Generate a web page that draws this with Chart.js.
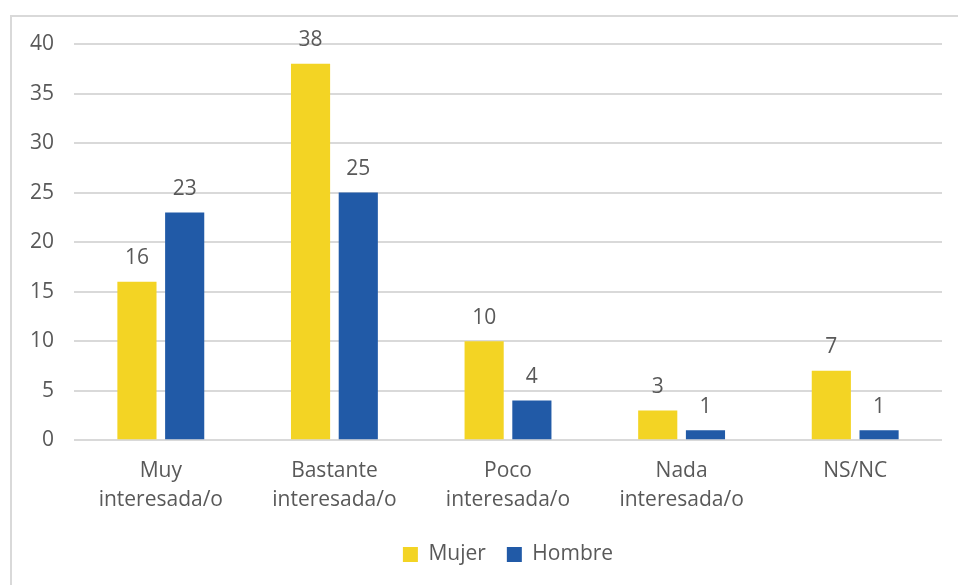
<!DOCTYPE html>
<html>
<head>
<meta charset="utf-8">
<script src="https://cdn.jsdelivr.net/npm/chart.js@4/dist/chart.umd.min.js"></script>
<style>
  html, body { margin: 0; padding: 0; background: #fff; overflow: hidden; }
  #marco { position: absolute; left: 10px; top: 15px; width: 960px; height: 580px; border: 2px solid #d9d9d9; box-sizing: border-box; }
  #grafico { position: absolute; left: 0; top: 0; }
</style>
</head>
<body>
<div id="marco"></div>
<canvas id="grafico" width="958" height="585"></canvas>
<script>
// datos
const categorias = [['Muy', 'interesada/o'], ['Bastante', 'interesada/o'], ['Poco', 'interesada/o'], ['Nada', 'interesada/o'], 'NS/NC'];
const mujer = [16, 38, 10, 3, 7];
const hombre = [23, 25, 4, 1, 1];
const colorMujer = '#F3D424';
const colorHombre = '#215AA7';
const textoGris = '#595959';
const fuente = '"Open Sans", sans-serif';

// etiquetas de valor encima de cada barra
const etiquetasValor = {
    id: 'etiquetasValor',
    afterDatasetsDraw(chart) {
        const ctx = chart.ctx;
        ctx.save();
        ctx.font = '21px ' + fuente;
        ctx.fillStyle = textoGris;
        ctx.textAlign = 'center';
        ctx.textBaseline = 'bottom';
        chart.data.datasets.forEach((ds, i) => {
            chart.getDatasetMeta(i).data.forEach((barra, j) => {
                ctx.fillText(ds.data[j], barra.x, barra.y - 13);
            });
        });
        ctx.restore();
    }
};

new Chart(document.getElementById('grafico'), {
    type: 'bar',
    data: {
        labels: categorias,
        datasets: [
            { label: 'Mujer', data: mujer, backgroundColor: colorMujer },
            { label: 'Hombre', data: hombre, backgroundColor: colorHombre }
        ]
    },
    options: {
        responsive: false,
        animation: false,
        devicePixelRatio: 1,
        categoryPercentage: 0.55,
        barPercentage: 0.82,
        layout: { padding: { left: 10, top: 44, right: 16, bottom: 10 } },
        plugins: {
            legend: {
                position: 'bottom',
                fullSize: false,
                labels: {
                    boxWidth: 15,
                    boxHeight: 15,
                    padding: 21,
                    color: textoGris,
                    font: { family: fuente, size: 21 }
                }
            },
            tooltip: { enabled: false }
        },
        scales: {
            x: {
                grid: { display: false },
                border: { display: false },
                ticks: { color: textoGris, font: { family: fuente, size: 21, lineHeight: 1.4 }, padding: 8, maxRotation: 0 }
            },
            y: {
                min: 0,
                max: 40,
                ticks: { stepSize: 5, color: textoGris, font: { family: fuente, size: 21 }, padding: 20 },
                grid: { color: '#d9d9d9', lineWidth: 2, drawTicks: false },
                border: { display: false }
            }
        }
    },
    plugins: [etiquetasValor]
});
</script>
</body>
</html>
